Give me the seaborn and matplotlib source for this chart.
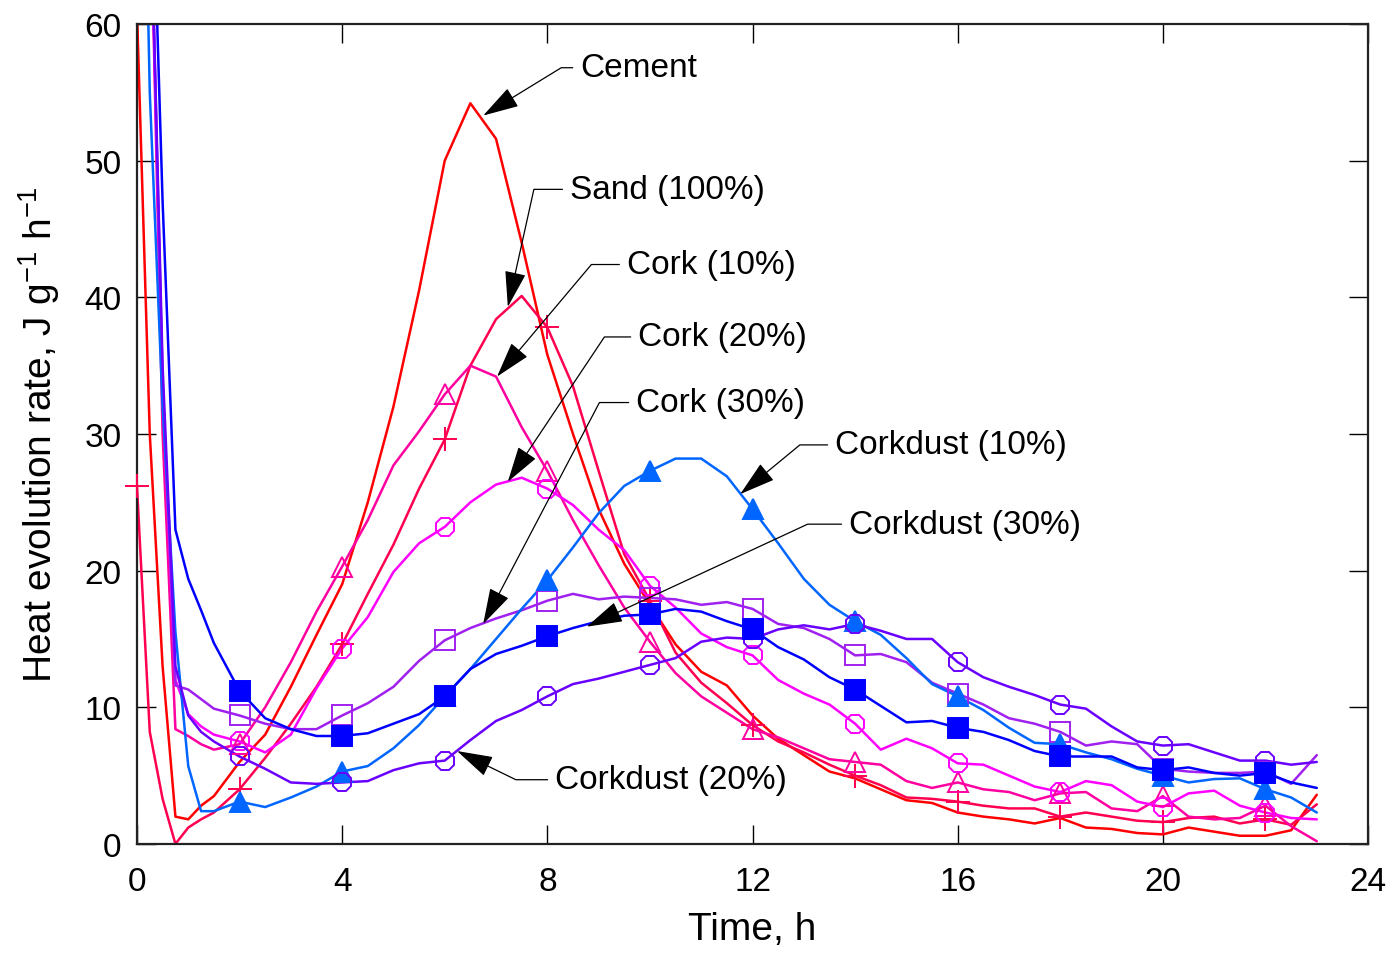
import matplotlib
matplotlib.use("Agg")
import matplotlib.pyplot as plt
import seaborn as sns

# время, ч
time_h = [0, 0.25, 0.5, 0.75, 1.0, 1.25, 1.5,
          2.0, 2.5, 3.0, 3.5, 4.0, 4.5, 5.0, 5.5, 6.0, 6.5, 7.0, 7.5, 8.0, 8.5,
          9.0, 9.5, 10.0, 10.5, 11.0, 11.5, 12.0, 12.5, 13.0, 13.5, 14.0, 14.5,
          15.0, 15.5, 16.0, 16.5, 17.0, 17.5, 18.0, 18.5, 19.0, 19.5, 20.0, 20.5,
          21.0, 21.5, 22.0, 22.5, 23.0]

# скорость тепловыделения, J g-1 h-1
cement = [61, 30, 13, 2.0, 1.8, 2.8, 3.5,
          6.0, 8.0, 11.5, 15.3, 19.0, 25.0, 32.0, 40.5, 50.0, 54.2, 51.6, 44.0, 35.8, 30.0,
          24.5, 20.5, 17.5, 14.6, 12.6, 11.6, 9.4, 7.7, 6.5, 5.3, 4.8, 4.0,
          3.2, 3.0, 2.3, 2.0, 1.8, 1.5, 1.9, 1.2, 1.1, 0.8, 0.7, 1.2,
          0.9, 0.6, 0.6, 1.0, 3.6]
sand = [26.2, 8.2, 3.3, 0.0, 1.2, 1.8, 2.3,
        4.0, 6.3, 8.8, 11.5, 14.6, 18.3, 21.9, 26.0, 29.6, 35.0, 38.4, 40.1, 37.8, 33.5,
        27.3, 21.2, 17.8, 14.0, 11.8, 10.3, 8.7, 7.5, 6.7, 5.8, 5.0, 4.3,
        3.4, 3.3, 3.1, 2.8, 2.6, 2.6, 2.0, 2.3, 2.0, 1.7, 1.6, 1.9,
        2.0, 1.5, 1.8, 1.4, 2.9]
cork10 = [110, 72, 30, 8.4, 7.9, 7.3, 6.9,
          7.3, 10.0, 13.3, 17.0, 20.3, 23.7, 27.7, 30.2, 32.9, 35.0, 34.2, 30.5, 27.3, 23.7,
          20.4, 17.3, 14.8, 12.5, 10.8, 9.6, 8.4, 7.8, 7.0, 6.2, 6.0, 5.8,
          4.6, 4.1, 4.5, 4.0, 3.8, 3.2, 3.7, 3.8, 2.6, 2.4, 3.5, 2.0,
          1.8, 1.9, 2.8, 1.3, 0.2]
cork20 = [110, 72, 33, 12.0, 9.5, 8.6, 8.0,
          7.5, 6.7, 8.0, 11.4, 14.3, 16.6, 19.9, 22.0, 23.2, 25.0, 26.3, 26.8, 26.0, 24.8,
          23.0, 21.5, 18.9, 17.3, 15.4, 14.4, 13.8, 12.0, 11.0, 10.2, 8.8, 6.9,
          7.7, 7.0, 5.9, 5.8, 5.0, 4.2, 3.8, 4.6, 4.3, 3.1, 2.7, 3.7,
          3.9, 2.8, 2.3, 1.9, 1.8]
cork30 = [110, 72, 34, 11.6, 11.3, 10.6, 9.9,
          9.4, 8.8, 8.4, 8.4, 9.4, 10.3, 11.5, 13.4, 14.9, 15.8, 16.5, 17.1, 17.8, 18.3,
          17.9, 18.1, 18.0, 17.9, 17.5, 17.7, 17.2, 16.1, 15.8, 15.0, 13.8, 13.9,
          13.3, 11.8, 11.0, 10.2, 9.2, 8.8, 8.2, 7.2, 7.5, 7.3, 5.5, 5.3,
          5.2, 5.2, 5.3, 4.4, 6.5]
corkdust10 = [100, 55, 32, 15.5, 5.7, 2.4, 2.4,
              3.1, 2.7, 3.4, 4.2, 5.3, 5.7, 7.0, 8.7, 10.8, 12.8, 15.0, 17.2, 19.3, 21.7,
              24.2, 26.2, 27.3, 28.2, 28.2, 26.9, 24.5, 22.0, 19.4, 17.5, 16.3, 15.3,
              13.6, 11.7, 10.8, 9.8, 8.5, 7.4, 7.3, 6.7, 6.2, 5.5, 5.0, 4.5,
              4.75, 4.8, 4.0, 3.4, 2.3]
corkdust20 = [110, 72, 35, 13.0, 9.4, 8.2, 7.5,
              6.4, 5.5, 4.5, 4.4, 4.5, 4.6, 5.4, 5.9, 6.1, 7.6, 9.0, 9.8, 10.8, 11.7,
              12.1, 12.6, 13.1, 13.6, 14.8, 15.1, 15.0, 15.7, 16.0, 15.7, 16.1, 15.6,
              15.0, 15.0, 13.3, 12.2, 11.5, 10.9, 10.2, 9.9, 8.6, 7.5, 7.2, 7.3,
              6.7, 6.1, 6.1, 5.8, 6.0]
corkdust30 = [110, 78, 47, 23.0, 19.4, 17.1, 14.7,
              11.2, 9.2, 8.4, 7.9, 7.9, 8.1, 8.8, 9.5, 10.8, 12.8, 13.9, 14.5, 15.2, 15.8,
              16.3, 16.7, 16.8, 17.2, 17.0, 16.3, 15.7, 14.4, 13.5, 12.2, 11.3, 10.1,
              8.9, 9.0, 8.5, 8.2, 7.6, 6.8, 6.4, 6.4, 6.4, 5.6, 5.4, 5.6,
              5.2, 5.0, 5.2, 4.5, 4.1]

series_names = ["Cement", "Sand (100%)", "Cork (10%)", "Cork (20%)", "Cork (30%)",
                "Corkdust (10%)", "Corkdust (20%)", "Corkdust (30%)"]
series_values = [cement, sand, cork10, cork20, cork30, corkdust10, corkdust20, corkdust30]

# цвет, маркер, заливка
styles = {
    "Cement": ("#FF0000", None, False),
    "Sand (100%)": ("#FF0050", "+", False),
    "Cork (10%)": ("#FF00A0", "^", False),
    "Cork (20%)": ("#FF00FF", "8", False),
    "Cork (30%)": ("#A020F0", "s", False),
    "Corkdust (10%)": ("#0066FF", "^", True),
    "Corkdust (20%)": ("#6A00FF", "8", False),
    "Corkdust (30%)": ("#0000FF", "s", True),
}
marker_size = {"+": 17, "^": 15, "8": 14.5, "s": 14.5}

# подписи со стрелками
annot_labels = ["Cement", "Sand (100%)", "Cork (10%)", "Cork (20%)", "Cork (30%)",
                "Corkdust (10%)", "Corkdust (30%)", "Corkdust (20%)"]
annot_tips = [(6.75, 53.3), (7.23, 39.3), (7.02, 34.2), (7.23, 26.5), (6.75, 16.1),
              (11.76, 25.6), (8.77, 15.9), (6.24, 6.8)]
annot_text = [(8.64, 56.8), (8.44, 47.9), (9.55, 42.4), (9.77, 37.1), (9.73, 32.3),
              (13.61, 29.2), (13.88, 23.4), (8.15, 4.7)]
annot_angle = [31.5, 77.5, 49.9, 56.3, 62.3, 39.5, 24.9, -26.0]

sns.set_style("ticks")
plt.rcParams['font.family'] = ['Liberation Sans', 'DejaVu Sans']
plt.rcParams['mathtext.default'] = 'regular'
plt.rcParams['text.color'] = 'black'
plt.rcParams['axes.labelcolor'] = 'black'

fig, ax = plt.subplots(figsize=(13.96, 9.54), dpi=100)
fig.subplots_adjust(left=0.0981, right=0.98, bottom=0.1143, top=0.9738)

mark_idx = [i for i, t in enumerate(time_h) if t % 2 == 0 and t < 23]

for name, vals in zip(series_names, series_values):
    color, marker, filled = styles[name]
    sns.lineplot(x=time_h, y=vals, color=color, linewidth=1.8, ax=ax, zorder=2)
    if marker:
        mx = [time_h[i] for i in mark_idx if vals[i] <= 60]
        my = [vals[i] for i in mark_idx if vals[i] <= 60]
        sns.lineplot(x=mx, y=my, ax=ax, color=color, linestyle='', marker=marker,
                     markersize=marker_size[marker],
                     markerfacecolor=color if filled else 'none',
                     markeredgecolor=color, markeredgewidth=1.4,
                     clip_on=False, zorder=3)

for label, tip, txt, ang in zip(annot_labels, annot_tips, annot_text, annot_angle):
    ax.annotate(label, xy=tip, xytext=txt, ha='left', va='center', fontsize=24,
                color='black', annotation_clip=False,
                arrowprops=dict(arrowstyle='-|>,head_length=0.95,head_width=0.28',
                                mutation_scale=24, color='black', lw=0.9,
                                shrinkA=3, shrinkB=0, relpos=(0, 0.5),
                                connectionstyle=f'angle,angleA=0,angleB={ang},rad=0'))

ax.set_xlim(0, 24)
ax.set_ylim(0, 60)
ax.set_xticks(range(0, 25, 4))
ax.set_yticks(range(0, 61, 10))
ax.tick_params(direction='in', length=14, width=1.0, top=True, right=True,
               labelsize=24, colors='black')
ax.tick_params(axis='x', pad=16)
ax.tick_params(axis='y', pad=11)
for sp in ax.spines.values():
    sp.set_linewidth(1.6)
    sp.set_color('#222222')

ax.set_xlabel('Time, h', fontsize=28, labelpad=10)
ax.set_ylabel('Heat evolution rate, J g$^{-1}$ h$^{-1}$', fontsize=28, labelpad=16)

plt.savefig('out.png', dpi=100)
